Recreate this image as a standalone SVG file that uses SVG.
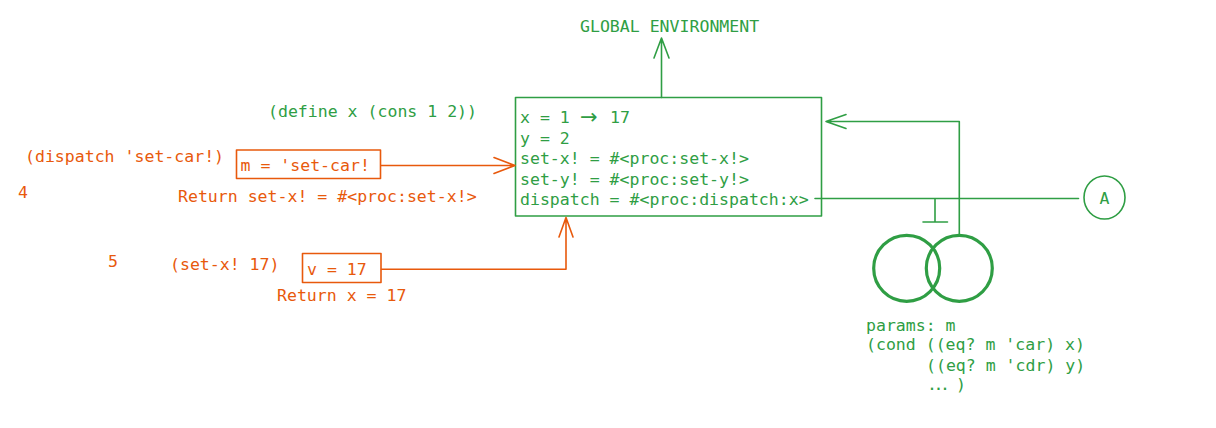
<svg xmlns="http://www.w3.org/2000/svg" width="1216" height="428" viewBox="0 0 1216 428">
<style>
text{font-family:"DejaVu Sans Mono","Liberation Mono",monospace;font-size:16.55px}
.g{fill:#2f9e44}
.o{fill:#e8590c}
.gs{stroke:#2f9e44;fill:none;stroke-width:1.6;stroke-linecap:round;stroke-linejoin:round}
.os{stroke:#e8590c;fill:none;stroke-width:1.6;stroke-linecap:round;stroke-linejoin:round}
.thick{stroke-width:3.2}
</style>
<rect width="1216" height="428" fill="#ffffff"/>
<g id="global-label"><text class="g" x="580" y="32">GLOBAL ENVIRONMENT</text></g>
<g id="define-label"><text class="g" x="268" y="117">(define x (cons 1 2))</text></g>
<g id="env-frame">
<rect class="gs" x="515.5" y="97.5" width="306" height="118.5"/>
<text class="g" x="520" y="123">x = 1 <tspan x="580" font-size="21" font-family="DejaVu Sans, sans-serif" dy="0.5">→</tspan><tspan x="610" dy="-0.5">17</tspan></text>
<text class="g" x="520" y="143.5">y = 2</text>
<text class="g" x="520" y="164">set-x! = #&lt;proc:set-x!&gt;</text>
<text class="g" x="520" y="184.5">set-y! = #&lt;proc:set-y!&gt;</text>
<text class="g" x="520" y="205">dispatch = #&lt;proc:dispatch:x&gt;</text>
</g>
<g id="frame-m">
<rect class="os" x="236.5" y="150" width="144" height="28.5"/>
<text class="o" x="240.5" y="171">m = 'set-car!</text>
</g>
<g id="frame-v">
<rect class="os" x="302.5" y="253.5" width="78.5" height="29"/>
<text class="o" x="307" y="275">v = 17</text>
</g>
<g id="labels-orange">
<text class="o" x="25" y="162">(dispatch 'set-car!)</text>
<text class="o" x="18" y="198">4</text>
<text class="o" x="178" y="202">Return set-x! = #&lt;proc:set-x!&gt;</text>
<text class="o" x="108" y="267">5</text>
<text class="o" x="170" y="270">(set-x! 17)</text>
<text class="o" x="277" y="301">Return x = 17</text>
</g>
<g id="procedure">
<circle class="gs thick" cx="906.7" cy="268.3" r="33"/>
<circle class="gs thick" cx="959.3" cy="268.3" r="33"/>
<text class="g" x="866" y="331">params: m</text>
<text class="g" x="866" y="350">(cond ((eq? m 'car) x)</text>
<text class="g" x="926" y="371">((eq? m 'cdr) y)</text>
<text class="g" x="927" y="390" letter-spacing="-3.5">...<tspan x="956" letter-spacing="0">)</tspan></text>
</g>
<g id="node-a">
<ellipse class="gs" cx="1104.5" cy="197.5" rx="20.5" ry="21.5"/>
<text class="g" x="1099.5" y="204">A</text>
</g>
<g id="connectors">
<path class="gs" d="M661.5 97.5 V38 M654 58 L661.5 38 L669 58"/>
<path class="gs" d="M815 198.5 H1078.5 M935 198.5 V222 M923 222 H947.5"/>
<path class="gs" d="M959.3 235 V121.5 H826 M846 114.5 L826 121.5 L846 128.5"/>
<path class="os" d="M381 165.5 H515 M494 157.5 L515 165.5 L494 173.5"/>
<path class="os" d="M381.5 269.3 H566 V217.5 M559 237 L566 217.5 L573 237"/>
</g>
</svg>
